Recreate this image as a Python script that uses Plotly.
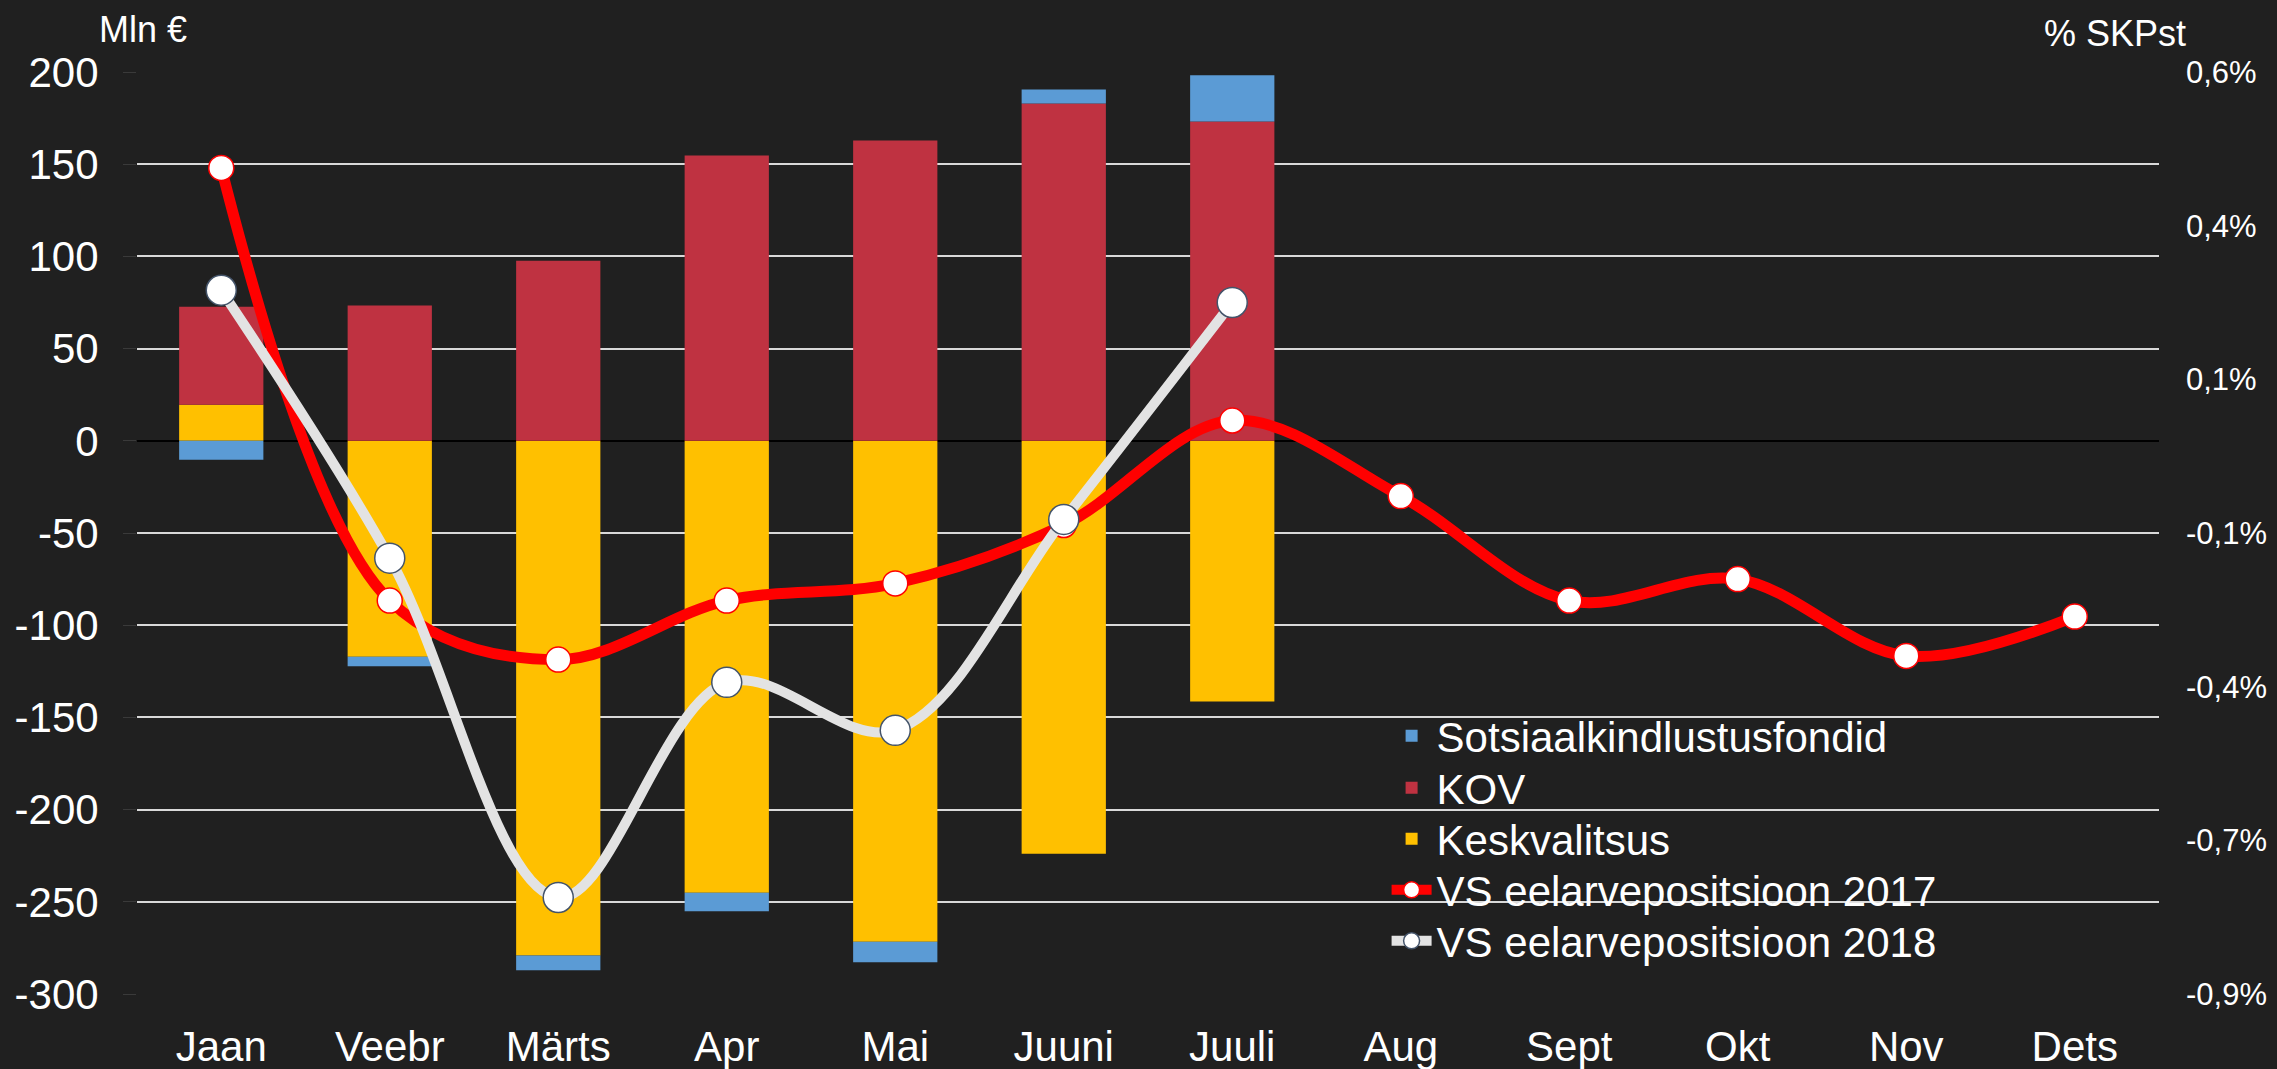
import plotly.graph_objects as go

months = ["Jaan", "Veebr", "Märts", "Apr", "Mai", "Juuni", "Juuli",
          "Aug", "Sept", "Okt", "Nov", "Dets"]

# Stacked bars, mln €
keskvalitsus = [19.5, -117.1, -279.1, -245.1, -271.7, -224.0, -141.4]
kov = [53.2, 73.4, 97.6, 154.7, 162.9, 182.9, 173.2]
sotsiaal = [-10.3, -5.1, -8.0, -10.0, -11.1, 7.6, 25.1]

# Budget position, % of GDP (right axis)
vs2017 = [0.444, -0.260, -0.356, -0.260, -0.232, -0.137, 0.033,
          -0.090, -0.260, -0.225, -0.350, -0.286]
vs2018 = [0.245, -0.191, -0.743, -0.393, -0.471, -0.128, 0.225]

left_ticks = [200, 150, 100, 50, 0, -50, -100, -150, -200, -250, -300]
left_ticktext = [str(v) for v in left_ticks]
right_tickvals = [0.6, 0.35, 0.1, -0.15, -0.4, -0.65, -0.9]
right_ticktext = ["0,6%", "0,4%", "0,1%", "-0,1%", "-0,4%", "-0,7%", "-0,9%"]

FONT = "Liberation Sans, Arial, sans-serif"
BG = "#202020"

fig = go.Figure()
fig.add_trace(go.Bar(x=months[:len(keskvalitsus)], y=keskvalitsus, name="Keskvalitsus",
                     marker=dict(color="#FFC000", line=dict(width=0)), legend="legend3"))
fig.add_trace(go.Bar(x=months[:len(kov)], y=kov, name="KOV",
                     marker=dict(color="#BF3241", line=dict(width=0)), legend="legend2"))
fig.add_trace(go.Bar(x=months[:len(sotsiaal)], y=sotsiaal, name="Sotsiaalkindlustusfondid",
                     marker=dict(color="#5B9BD5", line=dict(width=0)), legend="legend"))
fig.add_trace(go.Scatter(x=months, y=vs2017, name="VS eelarvepositsioon 2017", yaxis="y2",
                         mode="lines+markers",
                         line=dict(color="#FF0000", width=11, shape="spline", smoothing=1.0),
                         marker=dict(symbol="circle", size=25, color="white",
                                     line=dict(color="#FF0000", width=1.5)),
                         legend="legend4"))
fig.add_trace(go.Scatter(x=months[:len(vs2018)], y=vs2018, name="VS eelarvepositsioon 2018",
                         yaxis="y2", mode="lines+markers",
                         line=dict(color="#E3E3E3", width=10, shape="spline", smoothing=1.0),
                         marker=dict(symbol="circle", size=30, color="white",
                                     line=dict(color="#44546A", width=1.5)),
                         legend="legend5"))

def leg(y):
    return dict(x=0.618, y=y, xanchor="left", yanchor="middle",
                bgcolor="rgba(0,0,0,0)", borderwidth=0,
                font=dict(family=FONT, size=42, color="white"), itemwidth=40)

fig.update_layout(
    width=2277, height=1069,
    margin=dict(l=137, r=118, t=72, b=75, autoexpand=False),
    paper_bgcolor=BG, plot_bgcolor=BG,
    barmode="relative", bargap=0.5,
    font=dict(family=FONT, color="white", size=42),
    showlegend=True,
    legend=leg(0.2798), legend2=leg(0.2234), legend3=leg(0.1681),
    legend4=leg(0.1128), legend5=leg(0.0575),
    xaxis=dict(categoryorder="array", categoryarray=months, range=[-0.5, 11.5],
               showgrid=False, zeroline=False, showline=False, ticks="",
               automargin=False,
               tickfont=dict(family=FONT, size=42, color="white"),
               ticklabelstandoff=24),
    yaxis=dict(range=[-300, 200], tickvals=left_ticks, ticktext=left_ticktext,
               showgrid=True, gridcolor="#D9D9D9", gridwidth=1.5,
               zeroline=True, zerolinecolor="#000000", zerolinewidth=1.5,
               showline=False, ticks="outside", ticklen=13, tickcolor="#3a3a3a",
               automargin=False,
               tickfont=dict(family=FONT, size=42, color="white"),
               ticklabelstandoff=16),
    yaxis2=dict(range=[-0.9, 0.6], overlaying="y", side="right",
                tickvals=right_tickvals, ticktext=right_ticktext,
                showgrid=False, zeroline=False, showline=False,
                automargin=False,
                ticks="", tickfont=dict(family=FONT, size=31, color="white"),
                ticklabelstandoff=26),
    annotations=[
        dict(text="Mln €", xref="paper", yref="paper", x=0.003, y=1.046,
             xanchor="center", yanchor="middle", showarrow=False,
             font=dict(family=FONT, size=36, color="white")),
        dict(text="% SKPst", xref="paper", yref="paper", x=0.978, y=1.042,
             xanchor="center", yanchor="middle", showarrow=False,
             font=dict(family=FONT, size=36, color="white")),
    ],
)

fig.write_html("out.html", config={"displayModeBar": False},
               post_script="document.body.style.margin='0px';document.body.style.overflow='hidden';")
